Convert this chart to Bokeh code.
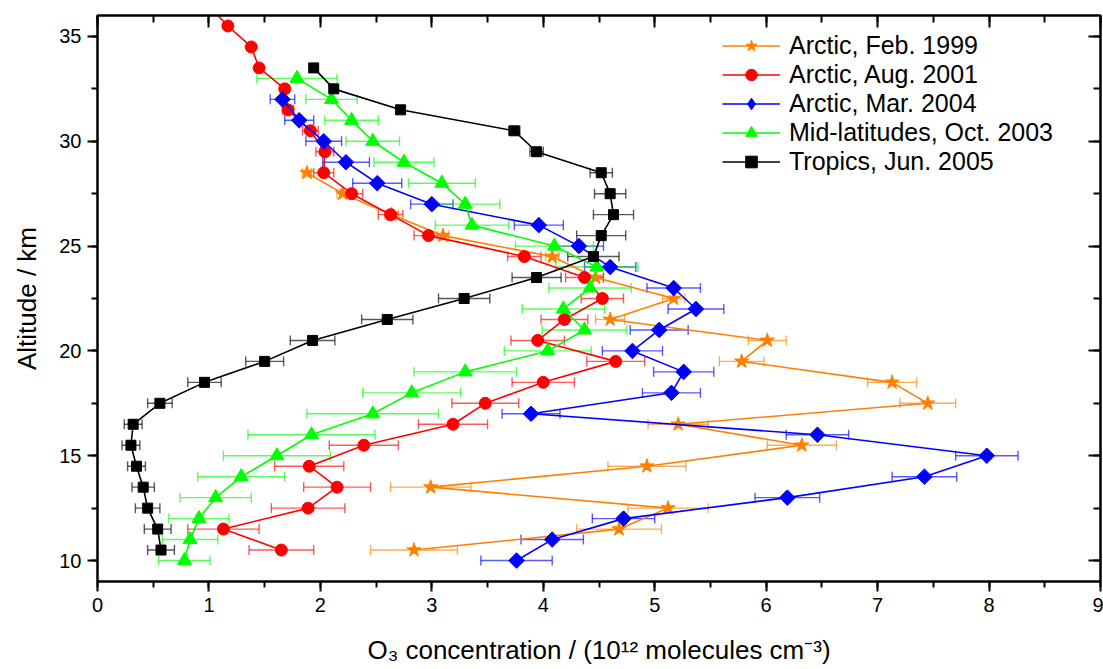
from math import pi
from bokeh.plotting import figure
from bokeh.models import (Range1d, LinearAxis, SingleIntervalTicker, Whisker, TeeHead,
                          ColumnDataSource, Legend, LegendItem)
from bokeh.embed import file_html
from bokeh.resources import INLINE

# ---------------- data ----------------
feb1999_alt = [28.5, 27.5, 26.5, 25.5, 24.5, 23.5, 22.5, 21.5, 20.5, 19.5, 18.5, 17.5,
               16.5, 15.5, 14.5, 13.5, 12.5, 11.5, 10.5]
feb1999_o3 = [1.88, 2.20, 2.64, 3.10, 4.08, 4.47, 5.17, 4.60, 6.01, 5.78, 7.13, 7.45,
              5.21, 6.32, 4.93, 2.99, 5.12, 4.68, 2.84]
feb1999_err = [0.04, 0.05, 0.06, 0.05, 0.06, 0.07, 0.10, 0.13, 0.17, 0.20, 0.22, 0.25,
               0.27, 0.31, 0.35, 0.36, 0.36, 0.38, 0.39]

aug2001_alt = [36.5, 35.5, 34.5, 33.5, 32.5, 31.5, 30.5, 29.5, 28.5, 27.5, 26.5, 25.5,
               24.5, 23.5, 22.5, 21.5, 20.5, 19.5, 18.5, 17.5, 16.5, 15.5, 14.5, 13.5,
               12.5, 11.5, 10.5]
aug2001_o3 = [0.99, 1.17, 1.38, 1.45, 1.68, 1.71, 1.91, 2.04, 2.03, 2.28, 2.63, 2.97,
              3.83, 4.37, 4.53, 4.19, 3.95, 4.65, 4.00, 3.48, 3.19, 2.39, 1.90, 2.15,
              1.89, 1.13, 1.65]
aug2001_err = [0.02, 0.02, 0.02, 0.03, 0.04, 0.05, 0.07, 0.08, 0.09, 0.10, 0.11, 0.13,
               0.15, 0.17, 0.19, 0.21, 0.24, 0.26, 0.28, 0.30, 0.31, 0.31, 0.31, 0.30,
               0.33, 0.32, 0.29]

mar2004_alt = [32, 31, 30, 29, 28, 27, 26, 25, 24, 23, 22, 21, 20, 19, 18, 17, 16, 15,
               14, 13, 12, 11, 10]
mar2004_o3 = [1.66, 1.81, 2.03, 2.23, 2.51, 3.00, 3.96, 4.32, 4.60, 5.17, 5.37, 5.04,
              4.80, 5.26, 5.15, 3.89, 6.46, 7.98, 7.42, 6.19, 4.72, 4.08, 3.76]
mar2004_err = [0.11, 0.13, 0.16, 0.21, 0.22, 0.19, 0.22, 0.22, 0.23, 0.24, 0.25, 0.26,
               0.27, 0.27, 0.26, 0.26, 0.28, 0.28, 0.29, 0.29, 0.28, 0.28, 0.32]

oct2003_alt = [33, 32, 31, 30, 29, 28, 27, 26, 25, 24, 23, 22, 21, 20, 19, 18, 17, 16,
               15, 14, 13, 12, 11, 10]
oct2003_o3 = [1.79, 2.10, 2.28, 2.47, 2.75, 3.09, 3.30, 3.36, 4.10, 4.48, 4.42, 4.18,
              4.37, 4.04, 3.30, 2.82, 2.47, 1.92, 1.61, 1.29, 1.06, 0.91, 0.83, 0.78]
oct2003_err = [0.36, 0.23, 0.24, 0.24, 0.27, 0.30, 0.31, 0.33, 0.35, 0.37, 0.37, 0.37,
               0.38, 0.39, 0.46, 0.44, 0.59, 0.57, 0.48, 0.39, 0.32, 0.27, 0.25, 0.23]

jun2005_alt = [33.5, 32.5, 31.5, 30.5, 29.5, 28.5, 27.5, 26.5, 25.5, 24.5, 23.5, 22.5,
               21.5, 20.5, 19.5, 18.5, 17.5, 16.5, 15.5, 14.5, 13.5, 12.5, 11.5, 10.5]
jun2005_o3 = [1.94, 2.12, 2.72, 3.74, 3.94, 4.52, 4.60, 4.63, 4.52, 4.45, 3.94, 3.29,
              2.60, 1.93, 1.50, 0.96, 0.56, 0.32, 0.30, 0.35, 0.41, 0.45, 0.54, 0.57]
jun2005_err = [0.03, 0.03, 0.03, 0.05, 0.06, 0.10, 0.14, 0.18, 0.22, 0.23, 0.22, 0.23,
               0.23, 0.20, 0.17, 0.15, 0.11, 0.08, 0.08, 0.08, 0.10, 0.11, 0.12, 0.12]

series_names = ["Arctic, Feb. 1999", "Arctic, Aug. 2001", "Arctic, Mar. 2004",
                "Mid-latitudes, Oct. 2003", "Tropics, Jun. 2005"]
x_ticks = [0, 1, 2, 3, 4, 5, 6, 7, 8, 9]
y_ticks = [10, 15, 20, 25, 30, 35]

FONT = "Liberation Sans"

p = figure(width=1103, height=669, output_backend="svg", toolbar_location=None,
           x_range=Range1d(0, 9), y_range=Range1d(9, 36),
           min_border_left=97, min_border_right=3, min_border_top=15, min_border_bottom=88)
p.xgrid.visible = False
p.ygrid.visible = False
p.outline_line_color = "black"
p.outline_line_width = 2
p.background_fill_color = "white"
p.border_fill_color = "white"

for ax in p.xaxis:
    ax.ticker = SingleIntervalTicker(interval=1, num_minor_ticks=2)
for ax in p.yaxis:
    ax.ticker = SingleIntervalTicker(interval=5, num_minor_ticks=2)

def style_main(ax):
    ax.axis_line_width = 2
    ax.major_tick_line_width = 2
    ax.minor_tick_line_width = 2
    ax.major_tick_in = 0
    ax.major_tick_out = 10
    ax.minor_tick_in = 0
    ax.minor_tick_out = 6
    ax.major_label_text_font = FONT
    ax.major_label_text_font_size = "20px"
    ax.major_label_text_color = "black"
    ax.axis_label_text_font = FONT
    ax.axis_label_text_font_size = "26px"
    ax.axis_label_text_font_style = "normal"
    ax.axis_label_text_color = "black"

style_main(p.xaxis[0])
style_main(p.yaxis[0])
p.xaxis[0].axis_label = "O\u2083 concentration / (10\u00b9\u00b2 molecules cm\u207b\u00b3)"
p.yaxis[0].axis_label = "Altitude / km"
p.xaxis[0].major_label_standoff = 6
p.xaxis[0].axis_label_standoff = 20
p.yaxis[0].major_label_standoff = 6
p.yaxis[0].axis_label_standoff = 14

def mirror_axis(ticker):
    ax = LinearAxis(ticker=ticker)
    ax.axis_line_width = 2
    ax.major_tick_line_width = 2
    ax.minor_tick_line_width = 2
    ax.major_tick_in = 12
    ax.major_tick_out = 0
    ax.minor_tick_in = 7
    ax.minor_tick_out = 0
    ax.major_label_text_font_size = "0px"
    ax.major_label_standoff = 0
    ax.major_label_text_alpha = 0
    return ax

p.add_layout(mirror_axis(SingleIntervalTicker(interval=1, num_minor_ticks=2)), "above")
p.add_layout(mirror_axis(SingleIntervalTicker(interval=5, num_minor_ticks=2)), "right")

# (alt, values, errors, color, plot marker, size, angle, legend marker)
specs = [
    (feb1999_alt, feb1999_o3, feb1999_err, "#FF8000", "star", 15, 0, "star"),
    (aug2001_alt, aug2001_o3, aug2001_err, "#FF0000", "circle", 12, 0, "circle"),
    (mar2004_alt, mar2004_o3, mar2004_err, "#0000FF", "square", 11, pi / 4, "diamond"),
    (oct2003_alt, oct2003_o3, oct2003_err, "#00FF00", "triangle", 14, 0, "triangle"),
    (jun2005_alt, jun2005_o3, jun2005_err, "#000000", "square", 10, 0, "square"),
]

NAN = float("nan")
items = []
for name, (alt, o3, err, color, marker, size, ang, lmarker) in zip(series_names, specs):
    src = ColumnDataSource(dict(
        alt=alt, o3=o3,
        lo=[v - e for v, e in zip(o3, err)],
        hi=[v + e for v, e in zip(o3, err)],
    ))
    wk = Whisker(base="alt", lower="lo", upper="hi", dimension="width", source=src,
                 line_color=color, line_alpha=0.65, line_width=1.4,
                 upper_head=TeeHead(size=10, line_color=color, line_alpha=0.65, line_width=1.4),
                 lower_head=TeeHead(size=10, line_color=color, line_alpha=0.65, line_width=1.4))
    p.add_layout(wk)
    ln = p.line("o3", "alt", source=src, line_color=color, line_width=1.6)
    sc = p.scatter("o3", "alt", source=src, marker=marker, size=size, angle=ang,
                   fill_color=color, line_color=color)
    if lmarker != marker or ang != 0:
        # legend swatch only (angle is not honoured in legend swatches); draws nothing in plot
        leg_sc = p.scatter(x=[NAN], y=[NAN], marker=lmarker, size=size,
                           fill_color=color, line_color=color)
        items.append(LegendItem(label=name, renderers=[ln, leg_sc]))
    else:
        items.append(LegendItem(label=name, renderers=[ln, sc]))

legend = Legend(items=items, location=(625, 405))
legend.border_line_color = None
legend.background_fill_alpha = 0
legend.label_text_font = FONT
legend.label_text_font_size = "25px"
legend.label_text_color = "black"
legend.glyph_width = 58
legend.glyph_height = 29
legend.label_height = 20
legend.spacing = 0
legend.padding = 10
legend.label_standoff = 9
p.add_layout(legend)

open("out.html", "w").write(file_html(p, INLINE))
